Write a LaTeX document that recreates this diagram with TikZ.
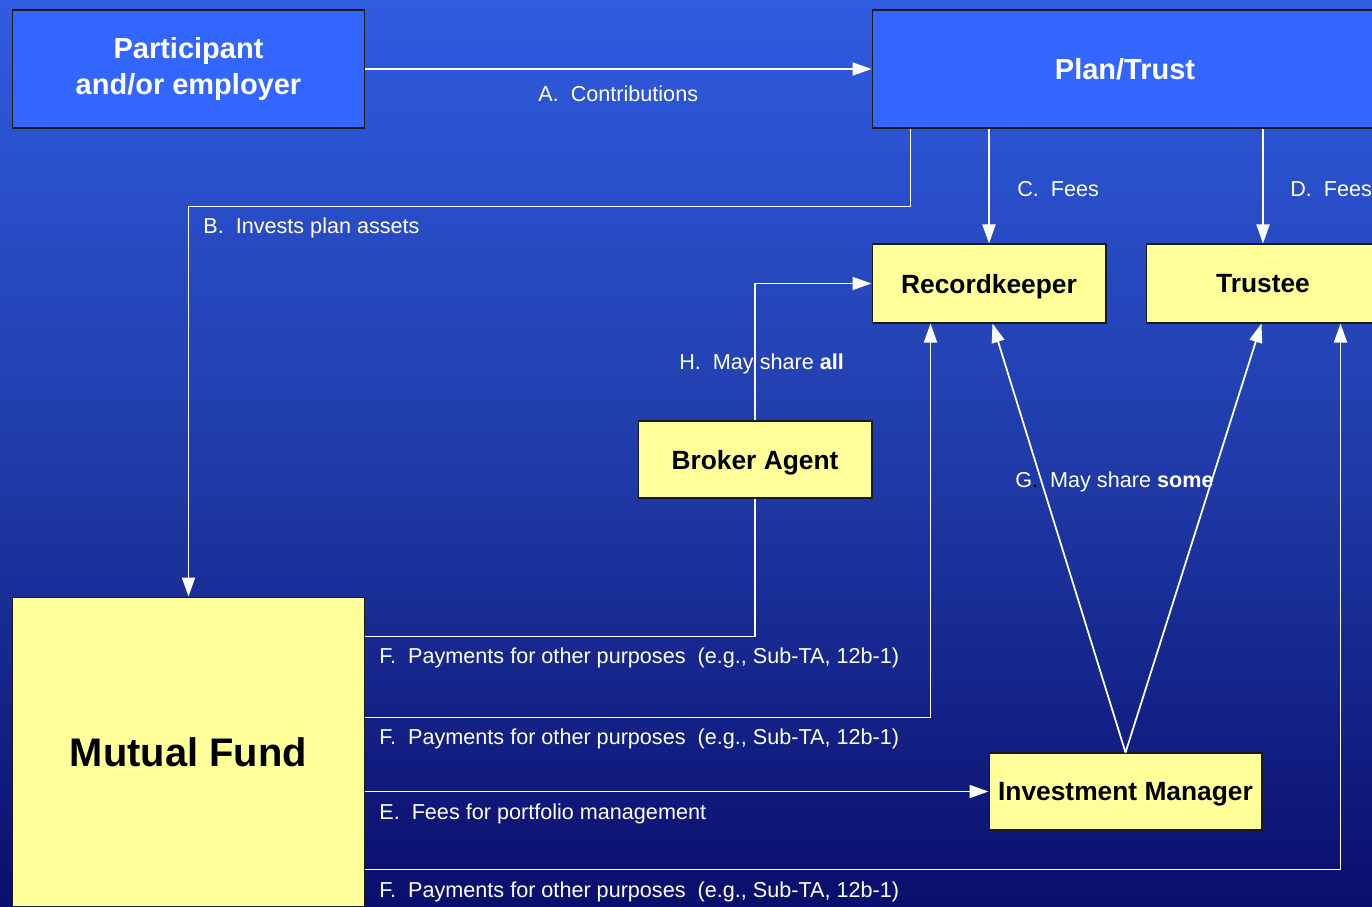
\documentclass[tikz,border=0pt]{standalone}
\usepackage{fontspec}
\setmainfont{Liberation Sans}
\usetikzlibrary{calc,positioning,arrows.meta}
\definecolor{bgtop}{RGB}{48,92,224}
\definecolor{bgmid}{RGB}{32,60,170}
\definecolor{bgbot}{RGB}{10,14,108}
\definecolor{planblue}{HTML}{3366FF}
\definecolor{memo}{HTML}{FFFF99}
\definecolor{edge}{HTML}{1A1A1A}

\begin{document}
\begin{tikzpicture}[x=0.02cm,y=-0.02cm,
  bluebox/.style={draw=edge,line width=0.6pt,fill=planblue,text=white,align=center,
    font=\fontsize{16.5}{21}\selectfont\bfseries},
  paybox/.style={draw=edge,line width=0.6pt,fill=memo,text=black,align=center,text depth=0pt,
    font=\fontsize{15}{18}\selectfont\bfseries},
  flow/.style={white,line width=1pt,-{Triangle[length=0.38cm,width=0.26cm]}},
  tag/.style={anchor=west,text=white,inner sep=0pt,yshift=-0.04cm,font=\fontsize{12.3}{14}\selectfont}]
\shade[top color=bgtop,bottom color=bgbot,middle color=bgmid] (0,0) rectangle (1372,906);
\useasboundingbox (0,0) rectangle (1372,906);
% boxes
\node[bluebox,minimum width=7.06cm,minimum height=2.36cm] (part) at (188.5,69) {Participant\\and/or employer};
\node[bluebox,minimum width=10.12cm,minimum height=2.36cm] (plan) at (1125,69) {Plan/Trust};
\node[paybox,minimum width=4.68cm,minimum height=1.58cm] (rk) at (989,283.5) {Recordkeeper};
\node[paybox,minimum width=4.68cm,minimum height=1.58cm] (tr) at (1263,283.5) {Trustee};
\node[paybox,minimum width=4.68cm,minimum height=1.54cm] (ba) at (755,459.5) {Broker Agent};
\node[paybox,minimum width=5.46cm,minimum height=1.54cm,inner sep=1pt] (im) at (1125.5,791.5) {Investment Manager};
\node[paybox,minimum width=7.06cm,minimum height=6.2cm,font=\fontsize{22.7}{26}\selectfont\bfseries] (fund) at (188.5,752) {Mutual Fund};
% flows
\draw[flow] (part) -- (plan);
\draw[flow] ($(plan.south west)+(39,0)$) -- ++(0,78) -| (fund.north);
\draw[flow] (plan.south -| rk.north) -- (rk.north);
\draw[flow] (plan.south -| tr.north) -- (tr.north);
\draw[flow] (ba.north) |- (rk.west);
\draw[white,line width=1pt] ($(fund.north east)+(0,40)$) -| (ba.south);
\draw[flow] ($(fund.north east)+(0,121)$) -| ($(rk.south west)+(59,0)$);
\draw[flow] (fund.east |- im.west) -- (im.west);
\draw[flow] ($(fund.north east)+(0,273)$) -| ($(tr.south west)+(195,0)$);
\draw[flow] (im.north) -- ($(rk.south west)+(121,0)$);
\draw[flow] (im.north) -- ($(tr.south west)+(116,0)$);
% labels
\node[tag] (lblA) at (538,92) {A.~~Contributions};
\node[tag] (lblB) at (203,226) {B.~~Invests plan assets};
\node[tag] (lblC) at (1017,187) {C.~~Fees};
\node[tag] (lblD) at (1290,187) {D.~~Fees};
\node[tag] (lblH) at (679,362) {H.~~May share \textbf{all}};
\node[tag] (lblG) at (1015,480) {G\textcolor{black}{.}~~May share \textbf{some}};
\node[tag] (lblF1) at (379,656) {F.~~Payments for other purposes~~(e.g., Sub-TA, 12b-1)};
\node[tag] (lblF2) at (379,737) {F.~~Payments for other purposes~~(e.g., Sub-TA, 12b-1)};
\node[tag] (lblE) at (379,812) {E.~~Fees for portfolio management};
\node[tag] (lblF3) at (379,890) {F.~~Payments for other purposes~~(e.g., Sub-TA, 12b-1)};
\end{tikzpicture}
\end{document}
